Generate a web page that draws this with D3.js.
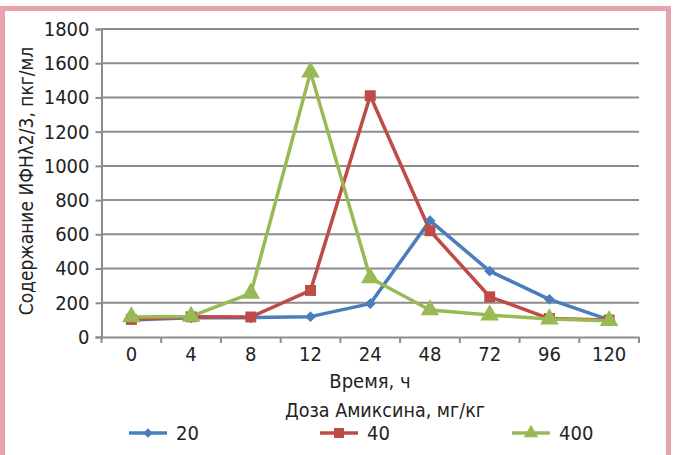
<!DOCTYPE html>
<html><head><meta charset="utf-8">
<script src="https://cdn.jsdelivr.net/npm/d3@7"></script>
<style>
html,body{margin:0;padding:0;background:#fff;}
svg{display:block;}
text{font-family:"Liberation Sans Narrow","DejaVu Sans Condensed","Roboto Condensed",sans-serif;fill:#222;}
</style></head>
<body>
<svg id="c" width="673" height="455"></svg>
<script>
const categories = ["0","4","8","12","24","48","72","96","120"];
const seriesNames = ["20","40","400"];
const s20 = [100,113,113,119,195,680,385,220,100];
const s40 = [103,118,117,272,1410,621,235,108,99];
const s400 = [117,120,255,1548,345,158,128,105,95];
const yTicks = [0,200,400,600,800,1000,1200,1400,1600,1800];
const colors = ["#4a7ebb","#be4b48","#98b954"];
const symbols = [d3.symbolSquare, d3.symbolSquare, d3.symbolTriangle];
const symRot = [45, 0, 0];
const symSizes = [60, 120, 150];
const legSizes = [45, 100, 90];

const svg = d3.select("#c");
// border
svg.append("rect").attr("x",2.5).attr("y",8.5).attr("width",666).attr("height",470)
  .attr("fill","none").attr("stroke","#e8a2ad").attr("stroke-width",5);

const L=101.5, R=639, T=29, B=337;
const x = d3.scaleBand().domain(categories).range([L,R]);
const y = d3.scaleLinear().domain([0,1800]).range([B,T]);

// gridlines
svg.append("g").selectAll("line").data(yTicks.slice(1)).join("line")
  .attr("x1",L).attr("x2",R).attr("y1",d=>y(d)).attr("y2",d=>y(d))
  .attr("stroke","#8c8c8c").attr("stroke-width",2);

// y axis
const ya = svg.append("g").attr("transform",`translate(${L},0)`)
  .call(d3.axisLeft(y).tickValues(yTicks).tickFormat(d3.format("d")).tickSize(6).tickPadding(6));
ya.select(".domain").attr("stroke","#8c8c8c").attr("stroke-width",2);
ya.selectAll(".tick line").attr("stroke","#8c8c8c").attr("stroke-width",2);
ya.selectAll("text").style("font-size","20px").attr("fill","#222");

// x axis
const xa = svg.append("g").attr("transform",`translate(0,${B})`)
  .call(d3.axisBottom(x).tickSize(0).tickPadding(10));
xa.select(".domain").attr("stroke","#8c8c8c").attr("stroke-width",2);
xa.selectAll("text").style("font-size","20px").attr("fill","#222");
// x tick marks at band boundaries
const bounds = categories.map(c=>x(c)).concat([R]);
svg.append("g").selectAll("line").data(bounds).join("line")
  .attr("x1",d=>d).attr("x2",d=>d).attr("y1",B).attr("y2",B+6)
  .attr("stroke","#8c8c8c").attr("stroke-width",2);

const cx = c => x(c)+x.bandwidth()/2;
const data = [s20,s40,s400];
const line = d3.line().x((d,i)=>cx(categories[i])).y(d=>y(d));
data.forEach((s,k)=>{
  svg.append("path").datum(s).attr("d",line).attr("fill","none")
    .attr("stroke",colors[k]).attr("stroke-width",3.5).attr("stroke-linejoin","round");
});
data.forEach((s,k)=>{
  svg.append("g").selectAll("path").data(s).join("path")
    .attr("d",d3.symbol().type(symbols[k]).size(symSizes[k]))
    .attr("transform",(d,i)=>`translate(${cx(categories[i])},${y(d)}) rotate(${symRot[k]})`)
    .attr("fill",colors[k]);
});

// titles
svg.append("text").attr("transform","translate(33,181) rotate(-90)")
  .attr("text-anchor","middle").style("font-size","19px").text("Содержание ИФНλ2/3, пкг/мл");
svg.append("text").attr("x",370).attr("y",388).attr("text-anchor","middle")
  .style("font-size","20px").text("Время, ч");
svg.append("text").attr("x",385).attr("y",417).attr("text-anchor","middle")
  .style("font-size","19.5px").text("Доза Амиксина, мг/кг");

// legend
const legX = [129, 320, 512];
seriesNames.forEach((n,k)=>{
  const g = svg.append("g").attr("transform",`translate(${legX[k]},433)`);
  g.append("line").attr("x1",0).attr("x2",38).attr("stroke",colors[k]).attr("stroke-width",3.5);
  g.append("path").attr("d",d3.symbol().type(symbols[k]).size(legSizes[k])).attr("transform",`translate(19,0) rotate(${symRot[k]})`).attr("fill",colors[k]);
  g.append("text").attr("x",47).attr("y",7).style("font-size","20px").text(n);
});
</script>
</body></html>
